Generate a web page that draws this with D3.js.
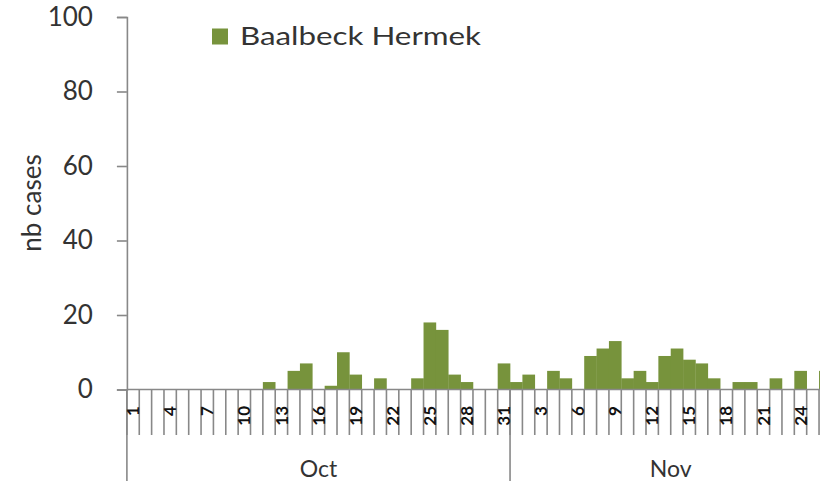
<!DOCTYPE html>
<html>
<head>
<meta charset="utf-8">
<script src="https://cdn.jsdelivr.net/npm/d3@7"></script>
<style>
  html, body { margin: 0; padding: 0; background: #fff; }
  svg { display: block; font-family: Lato, "Open Sans", sans-serif; }
</style>
</head>
<body>
<svg id="chart" width="820" height="481"></svg>
<script>
// ---- data ----
const seriesName = "Baalbeck Hermek";
const monthNames = ["Oct", "Nov"];
const monthLengths = [31, 26];
const days = [1,2,3,4,5,6,7,8,9,10,11,12,13,14,15,16,17,18,19,20,21,22,23,24,25,26,27,28,29,30,31,
              1,2,3,4,5,6,7,8,9,10,11,12,13,14,15,16,17,18,19,20,21,22,23,24,25,26];
const cases = [0,0,0,0,0,0,0,0,0,0,0,2,0,5,7,0,1,10,4,0,3,0,0,3,18,16,4,2,0,0,7,
               2,4,0,5,3,0,9,11,13,3,5,2,9,11,8,7,3,0,2,2,0,3,0,5,0,5];
const yTicks = [0, 20, 40, 60, 80, 100];
const yTitle = "nb cases";

// ---- layout ----
const W = 820, H = 481;
const x0 = 126.9, x1 = 831.4;
const yBase = 389.5, yTop = 17;
const axisColor = "#888888";
const barColor = "#77933c";

const svg = d3.select("#chart");
const idx = days.map((d, i) => i);

const x = d3.scaleBand().domain(idx).range([x0, x1]).padding(0);
const y = d3.scaleLinear().domain([0, 100]).range([yBase, yTop]);

// bars
svg.append("g").selectAll("rect").data(cases).join("rect")
  .attr("x", (d, i) => x(i))
  .attr("y", d => y(d))
  .attr("width", x.bandwidth() + 0.3)
  .attr("height", d => y(0) - y(d))
  .attr("fill", barColor);

// y axis
const yAxis = d3.axisLeft(y).tickValues(yTicks).tickSize(10).tickPadding(24);
const gy = svg.append("g").attr("transform", `translate(${x0},0)`).call(yAxis);
gy.select(".domain").attr("stroke", axisColor).attr("stroke-width", 1.6);
gy.selectAll(".tick line").attr("stroke", axisColor).attr("stroke-width", 1.6);
gy.selectAll(".tick text").attr("fill", "#333")
  .style("font-size", "26px").style("font-family", "Lato, sans-serif");

// x axis baseline
svg.append("line").attr("x1", x0).attr("x2", x1).attr("y1", yBase).attr("y2", yBase)
  .attr("stroke", axisColor).attr("stroke-width", 1.6);

// category boundary lines
const boundaries = idx.map(i => x(i)).concat([x1]);
svg.append("g").selectAll("line").data(boundaries).join("line")
  .attr("x1", d => d).attr("x2", d => d)
  .attr("y1", yBase).attr("y2", 435)
  .attr("stroke", axisColor).attr("stroke-width", 1.6);

// month separators
let start = 0;
const groups = monthNames.map((m, k) => {
  const g = { name: m, s: start, e: start + monthLengths[k] };
  start += monthLengths[k];
  return g;
});
const sepX = [x0].concat(groups.map(g => g.e < days.length ? x(g.e) : x1));
svg.append("g").selectAll("line").data(sepX).join("line")
  .attr("x1", d => d).attr("x2", d => d)
  .attr("y1", yBase).attr("y2", H)
  .attr("stroke", axisColor).attr("stroke-width", 1.6);

// day tick labels (every 3rd category)
svg.append("g").selectAll("text").data(idx.filter(i => i % 3 === 0)).join("text")
  .attr("transform", i => `translate(${x(i) + x.bandwidth() / 2},406) rotate(-90)`)
  .attr("text-anchor", "end")
  .attr("dy", "0.36em")
  .attr("fill", "#111")
  .style("font-size", "17px")
  .style("font-weight", "bold")
  .text(i => days[i]);

// month labels
svg.append("g").selectAll("text").data(groups).join("text")
  .attr("x", g => (x(g.s) + (g.e < days.length ? x(g.e) : x1)) / 2)
  .attr("y", 477)
  .attr("text-anchor", "middle")
  .attr("fill", "#333")
  .style("font-size", "23px")
  .text(g => g.name);

// y title
svg.append("text")
  .attr("transform", "translate(41,203) rotate(-90)")
  .attr("text-anchor", "middle")
  .attr("fill", "#333")
  .style("font-size", "26px")
  .text(yTitle);

// legend
svg.append("rect").attr("x", 212).attr("y", 28.5).attr("width", 16).attr("height", 16)
  .attr("fill", barColor);
svg.append("text").attr("x", 240).attr("y", 45)
  .attr("fill", "#333")
  .style("font-size", "25px")
  .attr("textLength", 241).attr("lengthAdjust", "spacingAndGlyphs")
  .text(seriesName);
</script>
</body>
</html>
